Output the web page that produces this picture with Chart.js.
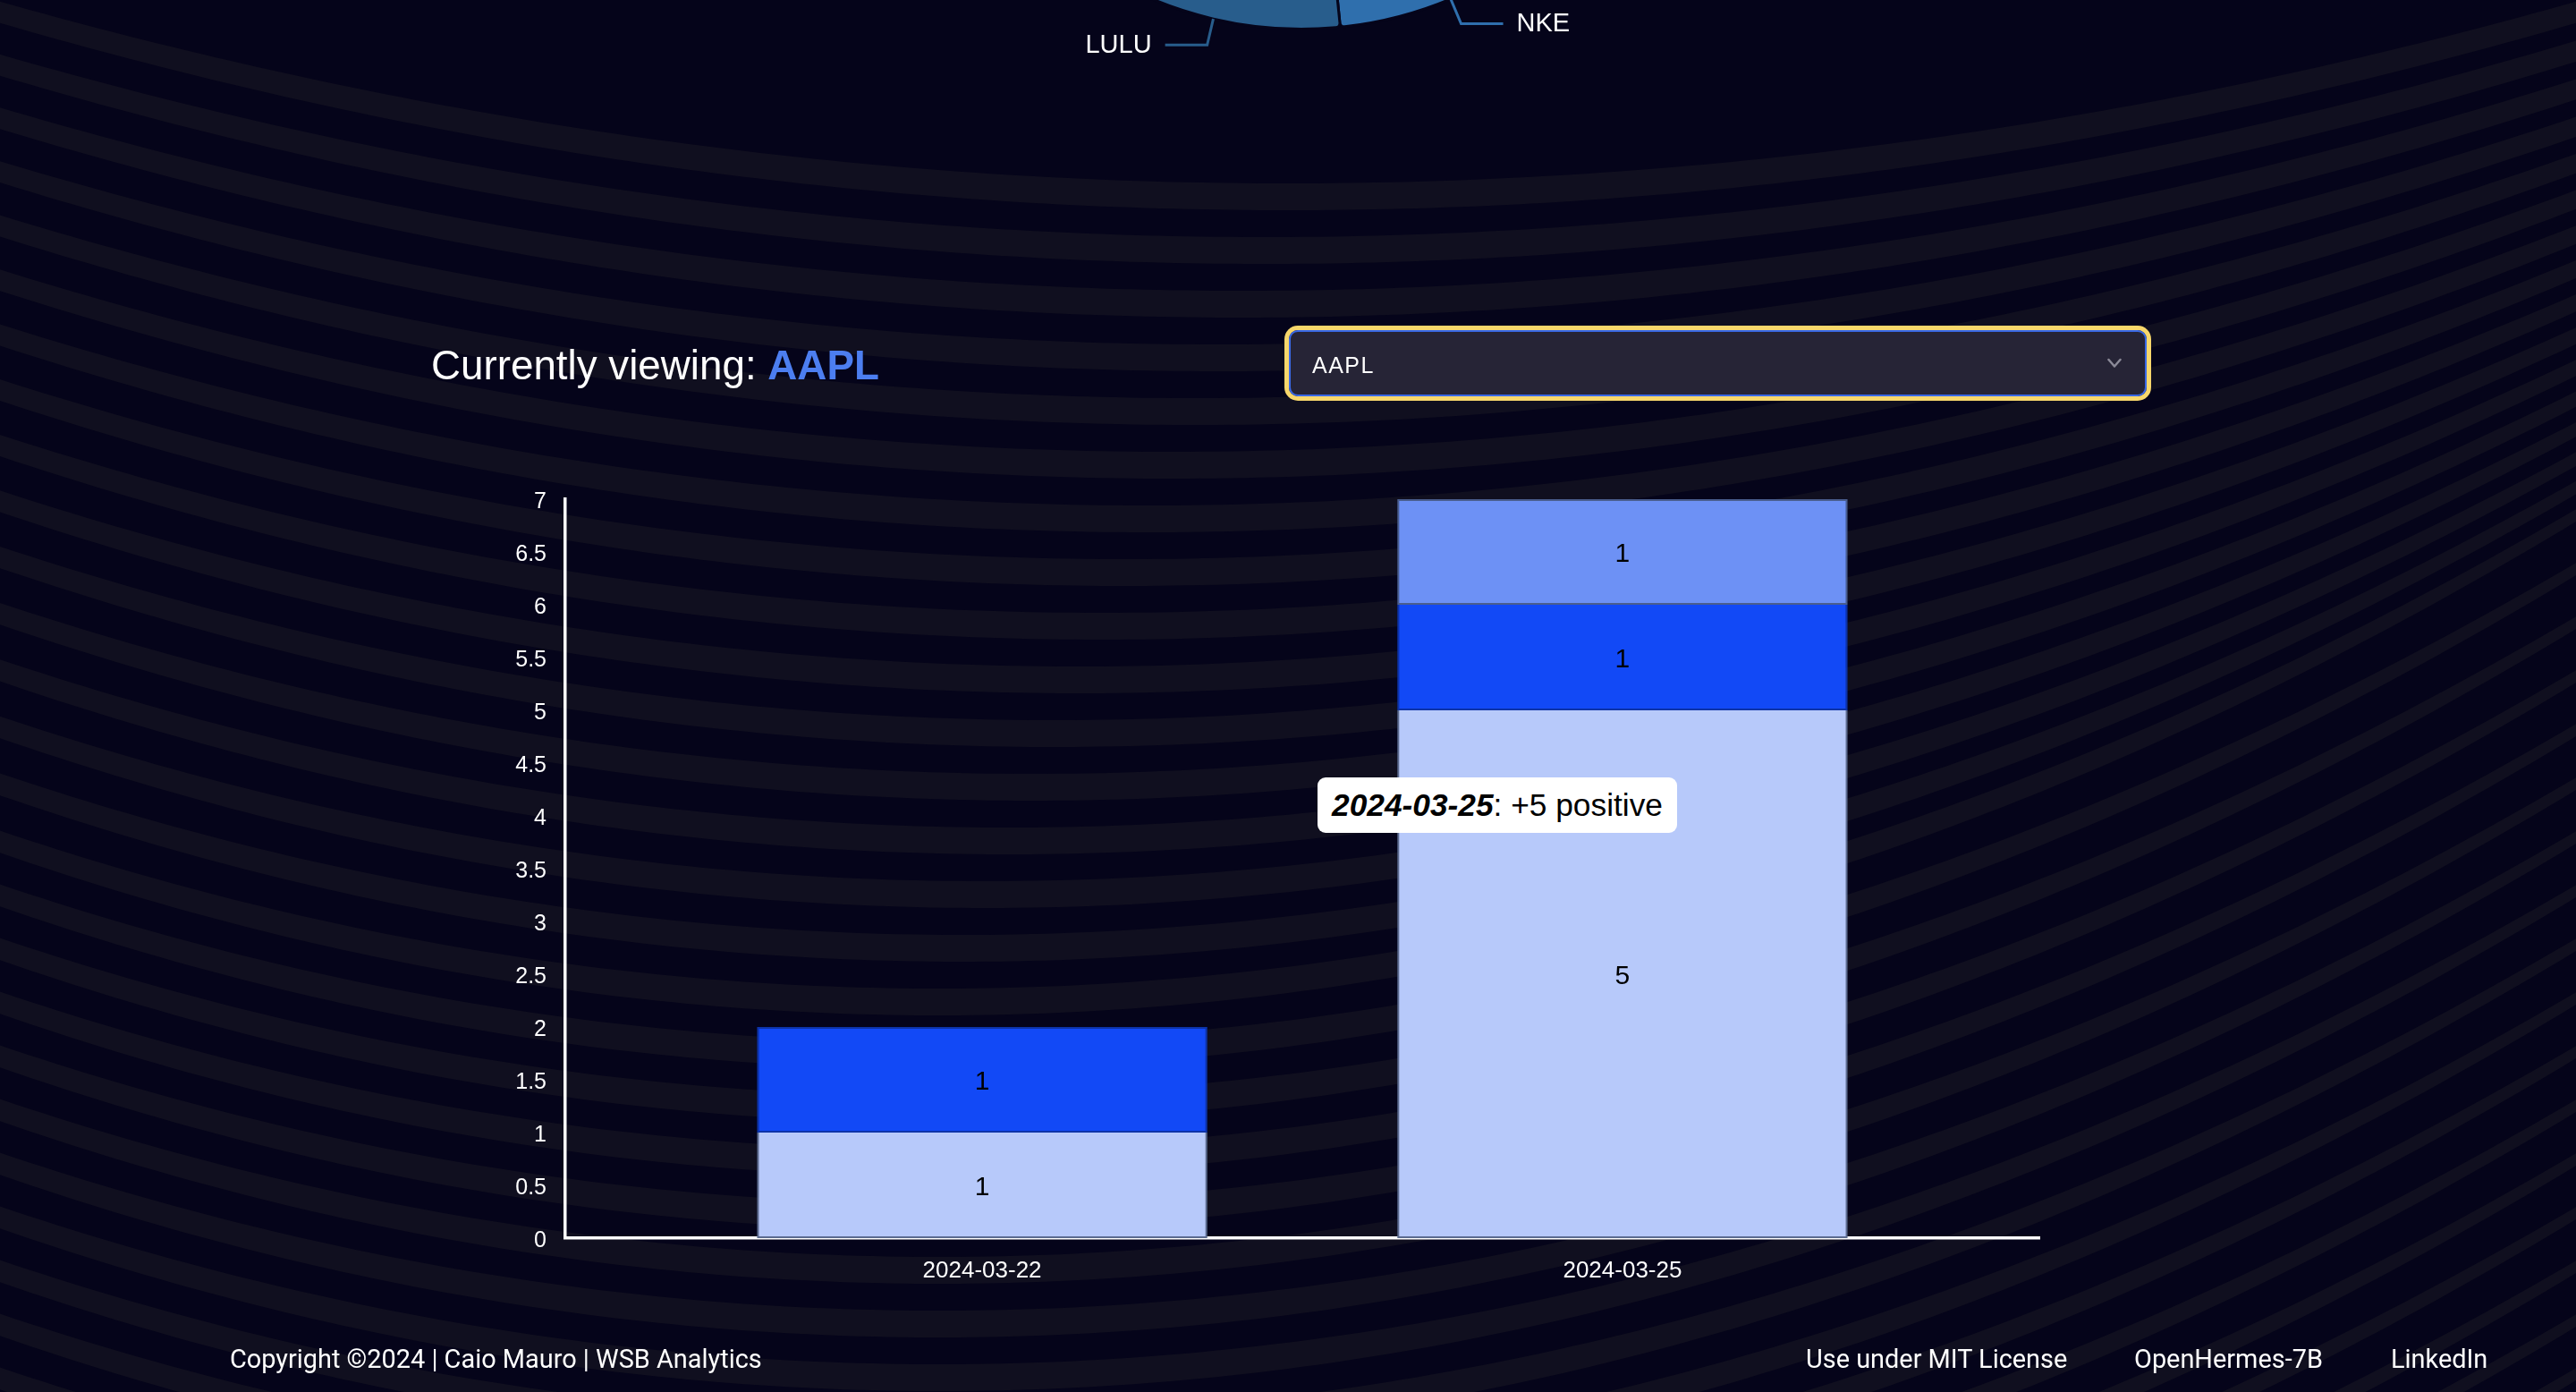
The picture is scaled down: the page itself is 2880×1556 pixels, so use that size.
<!DOCTYPE html>
<html>
<head>
<meta charset="utf-8">
<title>WSB Analytics</title>
<script src="https://cdn.jsdelivr.net/npm/chart.js@4.4.1/dist/chart.umd.min.js"></script>
<style>
html,body{margin:0;padding:0;}
body{width:2880px;height:1556px;position:relative;overflow:hidden;background:#05041a;font-family:'Liberation Sans',Arial,sans-serif;}
canvas{display:block;}
#bg{position:absolute;left:0;top:0;}
#pieCanvas{position:absolute;left:0;top:0;}
#barCanvas{position:absolute;left:400px;top:500px;}
.t{position:absolute;white-space:nowrap;line-height:1;color:#fff;margin:0;}
#title b{color:#4c7ef0;font-weight:700;}
#select{position:absolute;left:1441px;top:369px;width:959px;height:74px;box-sizing:border-box;border:2px solid #3a69e6;border-radius:10px;box-shadow:0 0 0 5px #f8d76b;background:rgba(40,38,56,0.95);}
#selText{letter-spacing:1.5px;}
#chev{position:absolute;left:2356px;top:400px;}
#tip{position:absolute;left:1473px;top:869px;width:402px;height:62px;background:#fff;border-radius:9px;box-sizing:border-box;padding-left:16px;line-height:62px;color:#000;white-space:nowrap;font-family:'Liberation Sans',Arial,sans-serif;}
.foot{font-family:Roboto,'Liberation Sans',sans-serif;}
</style>
</head>
<body>
<canvas id="bg" width="2880" height="1556"></canvas>
<canvas id="pieCanvas" width="800" height="494"></canvas>

<div id="title" class="t">Currently viewing: <b id="titleTicker"></b></div>
<div id="select"></div>
<div id="selText" class="t"></div>
<svg id="chev" width="16" height="12" viewBox="0 0 16 12"><polyline points="1.5,2 8,9.5 14.5,2" fill="none" stroke="#8b8a98" stroke-width="2.5" stroke-linecap="round" stroke-linejoin="round"/></svg>

<canvas id="barCanvas" width="1980" height="980"></canvas>
<div id="tip"></div>

<div id="copy" class="t foot">Copyright ©2024 | Caio Mauro | WSB Analytics</div>
<div id="lic" class="t foot">Use under MIT License</div>
<div id="oh" class="t foot">OpenHermes-7B</div>
<div id="li" class="t foot">LinkedIn</div>

<script>
// ---------------- data ----------------
const ticker = 'AAPL';
const categories = ['2024-03-22', '2024-03-25'];
const seriesNames = ['positive', 'neutral', 'negative'];
const positiveValues = [1, 5];
const neutralValues = [1, 1];
const negativeValues = [0, 1];
const yMin = 0, yMax = 7, yStep = 0.5;

// partially visible pie at the top of the page
const pieLabels = ['NKE', 'LULU'];
const pieValues = [34, 38];

// ---------------- background ----------------
(function drawBackground(){
  const g = document.getElementById('bg').getContext('2d');
  g.fillStyle = '#05041a';
  g.fillRect(0, 0, 2880, 1556);
  g.fillStyle = '#100f1f';
  const P = 60;
  for (let k = 0; k < 34; k++) {
    const t = Math.min(k / 15, 1);
    const c = 9.8e-5 + t * (1.6e-4 - 9.8e-5);
    const xc = 1440 - t * 390;
    const y0 = 205 + k * P;
    const w = P * 0.5;
    g.beginPath();
    for (let x = 0; x <= 2880; x += 16) {
      const y = y0 - c * (x - xc) * (x - xc);
      if (x === 0) g.moveTo(x, y); else g.lineTo(x, y);
    }
    for (let x = 2880; x >= 0; x -= 16) {
      const y = y0 + w - c * 1.03 * (x - xc) * (x - xc);
      g.lineTo(x, y);
    }
    g.closePath();
    g.fill();
  }
})();

Chart.defaults.font.family = "'Liberation Sans', Arial, sans-serif";

// ---------------- text placement helpers ----------------
function fitSize(el, target) {
  el.style.fontSize = '40px';
  const w = el.getBoundingClientRect().width;
  return 40 * target / w;
}
function place(el, size, left, baseline, k) {
  el.style.fontSize = size + 'px';
  el.style.left = left + 'px';
  el.style.top = (baseline - k * size) + 'px';
}
const K_LIB = 0.8465, K_ROB = 0.8418;

document.getElementById('titleTicker').textContent = ticker;
const titleEl = document.getElementById('title');
place(titleEl, fitSize(titleEl, 501), 482, 425, K_LIB);

const selEl = document.getElementById('selText');
selEl.textContent = ticker;
place(selEl, 25, 1467, 417, K_LIB);

const copyEl = document.getElementById('copy');
const fs = fitSize(copyEl, 595);
place(copyEl, fs, 257, 1529, K_ROB);
place(document.getElementById('lic'), fs, 2019, 1529, K_ROB);
place(document.getElementById('oh'), fs, 2386, 1529, K_ROB);
place(document.getElementById('li'), fs, 2673, 1529, K_ROB);

// ---------------- pie (top, mostly off-page) ----------------
const pieColors = ['#2f6fad', '#285d8c'];
const leaderLines = {
  id: 'leaderLines',
  afterDraw(chart) {
    const ctx = chart.ctx;
    const meta = chart.getDatasetMeta(0);
    ctx.save();
    ctx.lineWidth = 3;
    ctx.font = '29px "Liberation Sans", Arial, sans-serif';
    ctx.textBaseline = 'middle';
    meta.data.forEach((arc, i) => {
      const p = arc.getProps(['x', 'y', 'startAngle', 'endAngle', 'outerRadius']);
      const mid = (p.startAngle + p.endAngle) / 2;
      const cs = Math.cos(mid), sn = Math.sin(mid);
      const x0 = p.x + p.outerRadius * cs, y0 = p.y + p.outerRadius * sn;
      const x1 = x0 + 30 * cs, y1 = y0 + 30 * sn;
      const dir = cs >= 0 ? 1 : -1;
      const x2 = x1 + 47 * dir;
      ctx.strokeStyle = pieColors[i];
      ctx.beginPath();
      ctx.moveTo(x0, y0); ctx.lineTo(x1, y1); ctx.lineTo(x2, y1);
      ctx.stroke();
      ctx.fillStyle = '#ffffff';
      ctx.textAlign = dir > 0 ? 'left' : 'right';
      ctx.fillText(chart.data.labels[i], x2 + 15 * dir, y1 + 1);
    });
    ctx.restore();
  }
};
const pieCanvas = document.getElementById('pieCanvas');
const pie = new Chart(pieCanvas, {
  type: 'pie',
  data: {
    labels: pieLabels,
    datasets: [{
      data: pieValues,
      backgroundColor: pieColors,
      borderColor: '#05041a',
      borderWidth: 3,
      borderRadius: 5
    }]
  },
  options: {
    responsive: false,
    animation: false,
    events: [],
    rotation: 140.2,
    circumference: 72,
    layout: { padding: { left: 90, right: 110, top: 0, bottom: 60 } },
    plugins: { legend: { display: false }, tooltip: { enabled: false } }
  },
  plugins: [leaderLines]
});
(function positionPie(){
  const a = pie.getDatasetMeta(0).data[0];
  pieCanvas.style.left = (1455 - a.x) + 'px';
  pieCanvas.style.top = (-399 - a.y) + 'px';
})();

// ---------------- stacked bar chart ----------------
const seriesValues = [positiveValues, neutralValues, negativeValues];
const fills = ['#b7c9fa', '#1249f6', '#6d91f5'];
const borders = ['#5b6b8f', '#0d33a8', '#4a5e8e'];
const xPad = 0.651;

function hasAbove(di, i) {
  for (let j = di + 1; j < seriesValues.length; j++) if (seriesValues[j][i] > 0) return true;
  return false;
}

const valueLabels = {
  id: 'valueLabels',
  afterDatasetsDraw(chart) {
    const ctx = chart.ctx;
    ctx.save();
    ctx.font = '30px "Liberation Sans", Arial, sans-serif';
    ctx.fillStyle = '#000';
    ctx.textAlign = 'center';
    ctx.textBaseline = 'middle';
    chart.data.datasets.forEach((ds, di) => {
      chart.getDatasetMeta(di).data.forEach((el, i) => {
        const v = ds.data[i].y;
        if (!v) return;
        ctx.fillText(String(v), el.x, (el.y + el.base) / 2 + 3);
      });
    });
    ctx.restore();
  }
};

new Chart(document.getElementById('barCanvas'), {
  type: 'bar',
  data: {
    datasets: seriesValues.map((vals, di) => ({
      label: seriesNames[di],
      data: vals.map((v, i) => ({ x: i, y: v })),
      backgroundColor: fills[di],
      borderColor: borders[di],
      borderWidth: 2,
      borderSkipped: (ctx) => hasAbove(ctx.datasetIndex, ctx.dataIndex) ? 'top' : false,
      inflateAmount: 0,
      barPercentage: 0.9,
      categoryPercentage: 0.7816
    }))
  },
  options: {
    responsive: false,
    animation: false,
    events: [],
    layout: { padding: { left: 0, right: 100, top: 58, bottom: 0 } },
    plugins: { legend: { display: false }, tooltip: { enabled: false } },
    scales: {
      x: {
        type: 'linear',
        stacked: true,
        bounds: 'data',
        offset: false,
        min: -xPad,
        max: categories.length - 1 + xPad,
        grid: { display: false, drawTicks: false, offset: false },
        border: { display: true, color: '#ffffff', width: 3.5 },
        afterBuildTicks: (s) => { s.ticks = categories.map((c, i) => ({ value: i })); },
        ticks: {
          color: '#ffffff', font: { size: 26 }, padding: 21, autoSkip: false, maxRotation: 0,
          callback: (v) => categories[v] !== undefined ? categories[v] : ''
        },
        afterFit: (s) => { s.height = 96; }
      },
      y: {
        type: 'linear',
        stacked: true,
        min: yMin,
        max: yMax,
        grid: { display: false, drawTicks: false },
        border: { display: true, color: '#ffffff', width: 3.5 },
        ticks: {
          stepSize: yStep, color: '#ffffff', font: { size: 25 }, padding: 21, labelOffset: 3,
          callback: (v) => String(Math.round(v * 100) / 100)
        },
        afterFit: (s) => { s.width = 232; }
      }
    }
  },
  plugins: [valueLabels]
});

// tooltip overlay (hovered segment)
const tip = document.getElementById('tip');
tip.innerHTML = '<b><i>' + categories[1] + '</i></b>: +' + positiveValues[1] + ' ' + seriesNames[0];
(function(){
  const span = document.createElement('span');
  span.innerHTML = tip.innerHTML;
  span.style.cssText = 'position:absolute;visibility:hidden;white-space:nowrap;font-family:"Liberation Sans",Arial,sans-serif;font-size:40px;';
  document.body.appendChild(span);
  const w = span.getBoundingClientRect().width;
  span.remove();
  tip.style.fontSize = (40 * 370 / w) + 'px';
})();
</script>
</body>
</html>
